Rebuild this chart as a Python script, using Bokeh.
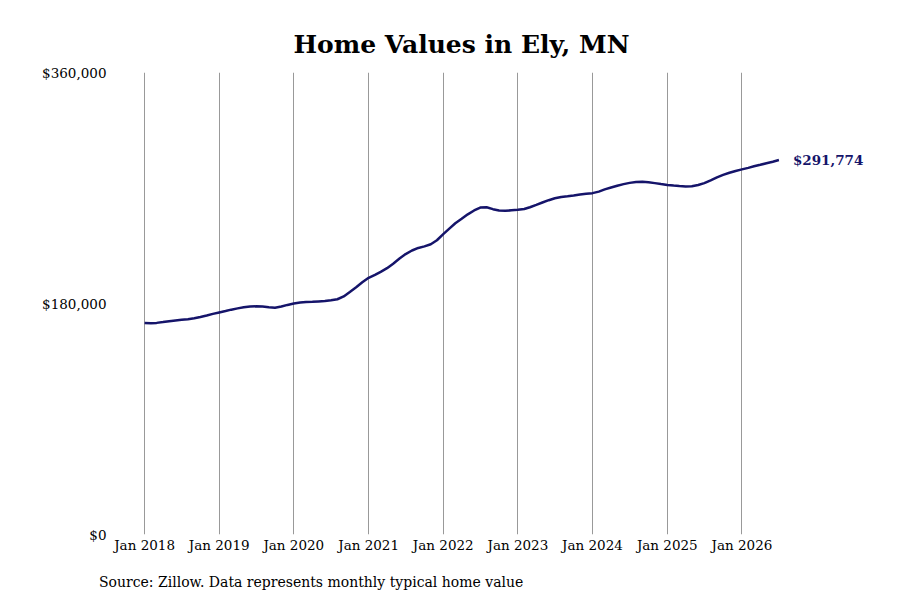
from datetime import datetime

import pandas as pd

from bokeh.core.properties import value
from bokeh.embed import file_html
from bokeh.layouts import column
from bokeh.models import (ColumnDataSource, DatetimeTickFormatter, Div, FixedTicker,
                          NumeralTickFormatter, Range1d)
from bokeh.plotting import figure
from bokeh.resources import INLINE

# monthly typical home value, Jan 2018 .. Jul 2026
values = [
    164900, 164600, 164900, 165500, 166200, 166800, 167300, 167800, 168500, 169500, 170600, 171900,  # 2018
    173000, 174100, 175200, 176200, 177000, 177600, 177800, 177600, 177100, 176700, 177600, 178900,  # 2019
    180000, 180700, 181100, 181300, 181600, 181900, 182500, 183300, 185500, 189000, 192700, 196500,  # 2020
    200000, 202300, 204700, 207500, 211000, 215000, 218500, 221300, 223300, 224500, 226200, 229300,  # 2021
    234000, 238500, 242500, 246000, 249500, 252500, 254800, 255000, 253500, 252500, 252200, 252600,  # 2022
    253000, 253600, 255000, 256800, 258700, 260500, 262000, 263000, 263500, 264100, 264900, 265500,  # 2023
    266000, 267200, 268900, 270400, 271800, 273000, 274000, 274700, 274800, 274400, 273800, 273100,  # 2024
    272400, 271900, 271500, 271200, 271300, 272300, 273800, 276000, 278300, 280200, 281900, 283300,  # 2025
    284500, 285700, 286900, 288100, 289300, 290500, 291774,                                          # 2026
]
dates = pd.date_range("2018-01-01", periods=len(values), freq="MS")
tick_years = list(range(2018, 2027))
y_ticks = [0, 180000, 360000]

navy = "#15146a"
font = "DejaVu Serif"

source = ColumnDataSource(data=dict(date=dates, value=values))

p = figure(width=892, height=560, x_axis_type="datetime",
           x_range=Range1d(datetime(2017, 7, 28), datetime(2027, 9, 22)),
           y_range=Range1d(0, 360000),
           output_backend="svg", toolbar_location=None,
           min_border_left=112, min_border_right=22,
           min_border_top=72, min_border_bottom=26)
p.outline_line_color = None
p.background_fill_color = "white"

p.title.text = "Home Values in Ely, MN"
p.title.text_font = font
p.title.text_font_size = "25px"
p.title.text_font_style = "bold"
p.title.text_color = "black"
p.title.align = "left"
p.title.offset = 181
p.title.standoff = 28

p.line("date", "value", source=source, line_color=navy, line_width=2.5)

last = ColumnDataSource(data=dict(date=[dates[-1]], value=[values[-1]],
                                  label=[f"${values[-1]:,}"]))
p.text("date", "value", text="label", source=last, x_offset=14,
       text_baseline="middle", text_align="left", text_color=navy,
       text_font=value(font), text_font_style="bold", text_font_size="13.5px")

# axes
p.xaxis.ticker = FixedTicker(ticks=[datetime(y, 1, 1).timestamp() * 1000 for y in tick_years])
p.xaxis.formatter = DatetimeTickFormatter(years="%b %Y", months="%b %Y", days="%b %Y")
p.yaxis.ticker = FixedTicker(ticks=y_ticks)
p.yaxis.formatter = NumeralTickFormatter(format="$0,0")
for ax in (p.xaxis, p.yaxis):
    ax.axis_line_color = None
    ax.major_tick_line_color = None
    ax.minor_tick_line_color = None
    ax.major_tick_in = 0
    ax.major_tick_out = 0
    ax.minor_tick_in = 0
    ax.minor_tick_out = 0
    ax.major_label_text_font = font
    ax.major_label_text_font_size = "13.5px"
    ax.major_label_text_color = "black"
p.xaxis.major_label_standoff = 2
p.yaxis.major_label_standoff = 6

p.xgrid.grid_line_color = "#999999"
p.xgrid.grid_line_width = 1
p.ygrid.grid_line_color = None

note = Div(text="Source: Zillow. Data represents monthly typical home value",
           width=780, height=32, margin=(0, 0, 0, 99),
           styles={"font-family": font, "font-size": "14px", "color": "black",
                   "line-height": "16px", "padding-top": "14px"})

layout = column(p, note, spacing=0)

open("out.html", "w").write(file_html(layout, INLINE))
